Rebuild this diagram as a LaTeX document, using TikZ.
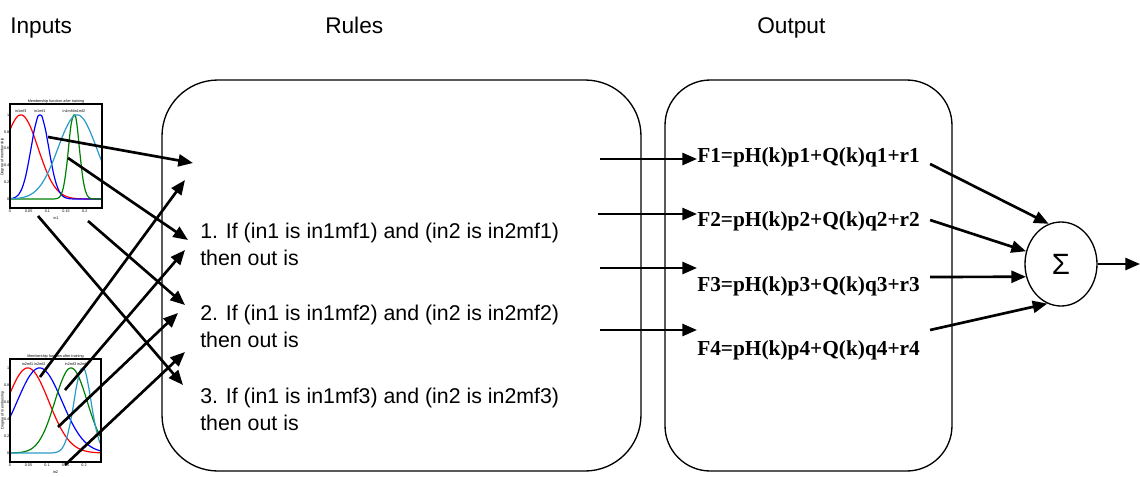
\documentclass[tikz,border=0pt]{standalone}
\usepackage{fontspec}
\setmainfont{Liberation Sans}
\newfontfamily\eqfont{Liberation Serif}
\usetikzlibrary{arrows.meta,shapes.geometric,calc}

\begin{document}
\begin{tikzpicture}[x=0.75pt,y=0.75pt,yscale=-1,xscale=1,
  link/.style={line width=2pt,-{Triangle[length=11pt,width=9pt]}},
  rulebox/.style={line width=1pt,rounded corners=#1},
  ruletext/.style={anchor=north west,inner sep=0pt,align=left,font=\fontsize{16}{20.25}\selectfont},
  eqtext/.style={anchor=west,inner sep=0pt,font=\eqfont\bfseries\fontsize{16}{19}\selectfont},
  heading/.style={anchor=base west,inner sep=0pt,font=\fontsize{17}{20}\selectfont},
  mf/.style={line width=0.9pt,samples=70,smooth},
  tiny/.style={font=\fontsize{2.8}{3.2}\selectfont,inner sep=0.4pt}
]
\useasboundingbox (0,0) rectangle (1140,476);

% Text Node
\node[heading] (hin) at (10,33) {Inputs};
\node[heading] (hrule) at (325,33) {Rules};
\node[heading] (hout) at (757,33) {Output};

%Shape: Rounded Rect
\draw[rulebox=42pt] (162,80) rectangle (641,471);
\draw[rulebox=34pt] (665,80) rectangle (952,471);

% membership functions, input 1
\begin{scope}[shift={(10,199)},xscale=374,yscale=-84]
\draw[red,mf,domain=0:0.246] plot (\x,{exp(max(-12,-(\x-0.029)^2/0.00424))});
\draw[blue,mf,domain=0:0.246] plot (\x,{exp(max(-12,-(\x-0.080)^2/0.00112))});
\draw[green!50!black,mf,domain=0:0.246] plot (\x,{exp(max(-12,-(\x-0.171)^2/0.00039))});
\draw[cyan!80!black,mf,domain=0:0.246] plot (\x,{exp(max(-12,-(\x-0.180)^2/0.00531))});
\draw[line width=1.2pt] (0,-0.107) rectangle (0.246,1.13);
\foreach \tk in {0,0.2,0.4,0.6,0.8,1} \node[tiny,anchor=east] at (0,\tk) {\tk};
\foreach \tk in {0,0.05,0.1,0.15,0.2} \node[tiny,anchor=north] at (\tk,-0.12) {\tk};
\node[tiny,anchor=south] at (0.123,1.13) {Membership function after training};
\node[tiny,rotate=90] at (-0.02,0.5) {Degree of membership};
\node[tiny] at (0.123,-0.23) {in1};
\node[tiny,anchor=south] at (0.029,1.02) {in1mf3};
\node[tiny,anchor=south] at (0.080,1.02) {in1mf1};
\node[tiny,anchor=south] at (0.171,1.02) {in1mf4in1mf2};
\end{scope}

% membership functions, input 2
\begin{scope}[shift={(10,453)},xscale=370,yscale=-85]
\draw[red,mf,domain=0:0.246] plot (\x,{exp(max(-12,-(\x-0.048)^2/0.00646))});
\draw[blue,mf,domain=0:0.246] plot (\x,{exp(max(-12,-(\x-0.080)^2/0.00737))});
\draw[green!50!black,mf,domain=0:0.246] plot (\x,{exp(max(-12,-(\x-0.165)^2/0.00382))});
\draw[cyan!80!black,mf,domain=0:0.246] plot (\x,{exp(max(-12,-(\x-0.196)^2/0.00106))});
\draw[line width=1.2pt] (0,-0.106) rectangle (0.246,1.106);
\foreach \tk in {0,0.2,0.4,0.6,0.8,1} \node[tiny,anchor=east] at (0,\tk) {\tk};
\foreach \tk in {0,0.05,0.1,0.15,0.2} \node[tiny,anchor=north] at (\tk,-0.12) {\tk};
\node[tiny,anchor=south] at (0.123,1.106) {Membership function after training};
\node[tiny,rotate=90] at (-0.02,0.5) {Degree of membership};
\node[tiny] at (0.123,-0.22) {in2};
\node[tiny,anchor=south] at (0.064,1.02) {in2mf1 in2mf2};
\node[tiny,anchor=south] at (0.180,1.02) {in2mf3 in2mf4};
\end{scope}

% Text Node
\node[ruletext] (r1) at (200,223) {1. If (in1 is in1mf1) and (in2 is in2mf1)\\then out is};
\node[ruletext] (r2) at (200,305) {2. If (in1 is in1mf2) and (in2 is in2mf2)\\then out is};
\node[ruletext] (r3) at (200,388) {3. If (in1 is in1mf3) and (in2 is in2mf3)\\then out is};

\node[eqtext] (f1) at (697,157) {F1=pH(k)p1+Q(k)q1+r1};
\node[eqtext] (f2) at (697,221) {F2=pH(k)p2+Q(k)q2+r2};
\node[eqtext] (f3) at (697,286) {F3=pH(k)p3+Q(k)q3+r3};
\node[eqtext] (f4) at (697,350) {F4=pH(k)p4+Q(k)q4+r4};

\node[ellipse,draw,line width=1pt,minimum width=54pt,minimum height=63pt,inner sep=0pt,font=\fontsize{22}{22}\selectfont] (sum) at (1061,264) {Σ};

% points on the membership curves
\coordinate (a1) at (48,137);
\coordinate (a2) at (68,158);
\coordinate (a3) at (38,216);
\coordinate (a4) at (88,221);
\coordinate (b1) at (40,377);
\coordinate (b2) at (65,390);
\coordinate (b3) at (58,427);
\coordinate (b4) at (65,465);
% arrow ends inside the rule box
\coordinate (t0) at (193,163);
\coordinate (t1) at (185,180);
\coordinate (t2) at (188,240);
\coordinate (t3) at (185,250);
\coordinate (t4) at (185,305);
\coordinate (t5) at (178,313);
\coordinate (t6) at (185,352);
\coordinate (t7) at (183,385);

%Straight Lines
\draw[link] (a1) -- (t0);
\draw[link] (a2) -- (t2);
\draw[link] (a3) -- (t7);
\draw[link] (a4) -- (t4);
\draw[link] (b1) -- (t1);
\draw[link] (b2) -- (t3);
\draw[link] (b3) -- (t5);
\draw[link] (b4) -- (t6);

% rule outputs
\coordinate (o1) at (600,159);
\coordinate (o2) at (598,214);
\coordinate (o3) at (600,268);
\coordinate (o4) at (600,330);
\draw[link] (o1) -- ($(f1.west)+(0,2)$);
\draw[link] (o2) -- ($(f2.west)+(0,-7)$);
\draw[link] (o3) -- ($(f3.west)+(0,-18)$);
\draw[link] (o4) -- ($(f4.west)+(0,-20)$);

\draw[link] ($(f1.east)+(10,7)$) -- (sum.107);
\draw[link] ($(f2.east)+(10,-1)$) -- (sum.160);
\draw[link] ($(f3.east)+(10,-9)$) -- (sum.200);
\draw[link] ($(f4.east)+(10,-20)$) -- (sum.251);

\coordinate (out) at (1140,264);
\draw[link] (sum.east) -- (out);

\end{tikzpicture}
\end{document}
